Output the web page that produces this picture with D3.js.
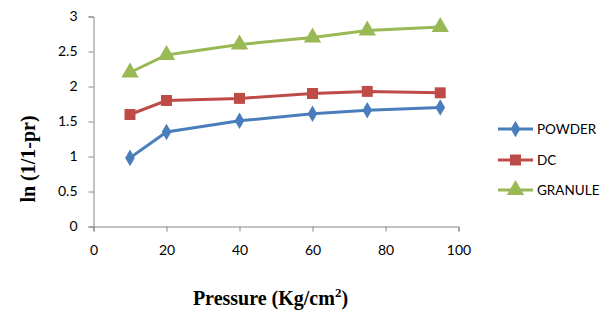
<!DOCTYPE html>
<html><head><meta charset="utf-8">
<script src="https://cdn.jsdelivr.net/npm/d3@7"></script>
<style>body{margin:0;background:#fff}svg{display:block}</style>
</head><body>
<script>
const pressure = [10, 20, 40, 60, 75, 95];
const powder = [0.98, 1.35, 1.51, 1.61, 1.66, 1.70];
const dc = [1.60, 1.80, 1.83, 1.90, 1.93, 1.91];
const granule = [2.20, 2.45, 2.60, 2.70, 2.80, 2.85];
const seriesNames = ["POWDER", "DC", "GRANULE"];
const xTicks = [0, 20, 40, 60, 80, 100];
const yTicks = [0, 0.5, 1, 1.5, 2, 2.5, 3];

const W = 615, H = 319;
const svg = d3.select("body").append("svg").attr("width", W).attr("height", H);
const x = d3.scaleLinear().domain([0, 100]).range([93.5, 458.5]);
const y = d3.scaleLinear().domain([0, 3]).range([226.5, 16.5]);
const axisColor = "#868686";
const tickFont = "Lato, 'Open Sans', sans-serif";

const gx = svg.append("g").attr("transform", `translate(0,${y(0)})`)
  .call(d3.axisBottom(x).tickValues(xTicks).tickSize(5).tickPadding(14).tickFormat(d3.format("d")));
const gy = svg.append("g").attr("transform", `translate(${x(0)},0)`)
  .call(d3.axisLeft(y).tickValues(yTicks).tickSize(5).tickPadding(11).tickFormat(d => String(d)));
[gx, gy].forEach(g => {
  g.select(".domain").attr("stroke", axisColor).attr("stroke-width", 1);
  g.selectAll(".tick line").attr("stroke", axisColor);
  g.selectAll("text").attr("font-family", tickFont).attr("font-size", 14).attr("fill", "#000");
});

const colors = ["#4a7ebb", "#be4b48", "#98b954"];
const data = [powder, dc, granule];
const line = d3.line().x((d, i) => x(pressure[i])).y(d => y(d));
const symbols = [d3.symbolDiamond, d3.symbolSquare, d3.symbolTriangle];
const sizes = [80, 120, 130];

data.forEach((vals, s) => {
  svg.append("path").datum(vals).attr("d", line).attr("fill", "none")
    .attr("stroke", colors[s]).attr("stroke-width", 3);
  svg.selectAll(null).data(vals).enter().append("path")
    .attr("d", d3.symbol().type(symbols[s]).size(sizes[s]))
    .attr("transform", (d, i) => `translate(${x(pressure[i])},${y(d)})`)
    .attr("fill", colors[s]);
});

// legend
const legY = [129, 160, 190];
seriesNames.forEach((name, s) => {
  const g = svg.append("g").attr("transform", `translate(0,${legY[s]})`);
  g.append("line").attr("x1", 498).attr("x2", 533).attr("y1", 0).attr("y2", 0)
    .attr("stroke", colors[s]).attr("stroke-width", 3);
  g.append("path").attr("d", d3.symbol().type(symbols[s]).size(sizes[s]))
    .attr("transform", "translate(515.5,0)").attr("fill", colors[s]);
  g.append("text").attr("x", 537).attr("y", 0).attr("dy", "0.35em")
    .attr("font-family", tickFont).attr("font-size", 13.5).text(name);
});

// axis titles
const xt = svg.append("text").attr("x", 270.5).attr("y", 305).attr("text-anchor", "middle")
  .attr("font-family", "'Liberation Serif', 'Times New Roman', serif").attr("font-weight", "bold")
  .attr("font-size", 20);
xt.append("tspan").text("Pressure (Kg/cm");
xt.append("tspan").attr("font-size", 13).attr("dy", -8).text("2");
xt.append("tspan").attr("dy", 8).text(")");

svg.append("text").attr("transform", "translate(35,159) rotate(-90)").attr("text-anchor", "middle")
  .attr("font-family", "'Liberation Serif', 'Times New Roman', serif").attr("font-weight", "bold")
  .attr("font-size", 20).text("ln (1/1-pr)");
</script>
</body></html>
